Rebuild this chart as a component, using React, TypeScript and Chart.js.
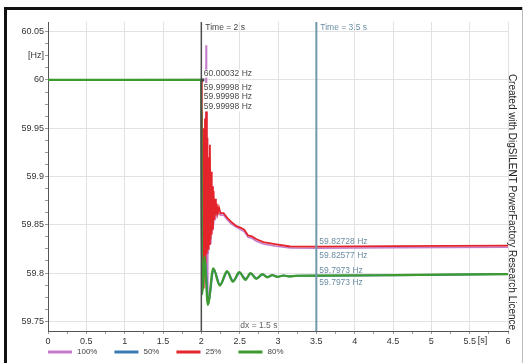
import React, { useEffect, useRef } from "react";
import { Chart, registerables } from "chart.js";
Chart.register(...registerables);

const seriesNames = ["100%", "50%", "25%", "80%"];
const seriesColors = ["#c47ccb", "#3b7bb3", "#e3242b", "#3c9a2f"];

const t100 = [0, 2.0, 2.01, 2.02, 2.03, 2.04, 2.05, 2.058, 2.062, 2.068, 2.076, 2.084, 2.092, 2.1, 2.108, 2.116, 2.124, 2.132, 2.14, 2.15, 2.16, 2.175, 2.19, 2.21, 2.25, 2.29, 2.34, 2.39, 2.45, 2.51, 2.56, 2.61, 2.66, 2.72, 2.81, 2.96, 3.16, 3.5, 4.5, 6.0];
const v100 = [60, 60.00032, 59.85, 59.92, 59.8, 59.94, 59.81, 59.95, 60.036, 59.83, 59.775, 59.9, 59.82, 59.91, 59.84, 59.895, 59.83, 59.88, 59.845, 59.875, 59.85, 59.87, 59.858, 59.864, 59.86, 59.86, 59.855, 59.851, 59.848, 59.845, 59.843, 59.837, 59.836, 59.833, 59.83, 59.828, 59.826, 59.82577, 59.8262, 59.8267];

const t50 = [0, 2.0, 2.01, 2.03, 2.05, 2.09, 2.16, 2.245, 2.34, 2.415, 2.5, 2.58, 2.645, 2.72, 2.8, 2.865, 2.93, 2.995, 3.075, 3.155, 3.25, 3.5, 4.5, 6.0];
const v50 = [60, 59.99998, 59.79, 59.8, 59.812, 59.768, 59.804, 59.788, 59.801, 59.792, 59.8, 59.794, 59.7995, 59.7945, 59.7985, 59.796, 59.7978, 59.7962, 59.7974, 59.7966, 59.7972, 59.7973, 59.7978, 59.799];

const t25 = [0, 2.0, 2.008, 2.016, 2.024, 2.032, 2.04, 2.048, 2.056, 2.064, 2.072, 2.08, 2.088, 2.096, 2.104, 2.112, 2.12, 2.128, 2.136, 2.144, 2.152, 2.16, 2.17, 2.18, 2.19, 2.2, 2.215, 2.23, 2.25, 2.29, 2.34, 2.39, 2.45, 2.51, 2.56, 2.61, 2.66, 2.72, 2.81, 2.96, 3.16, 3.5, 4.5, 6.0];
const v25 = [60, 59.99998, 59.8, 59.93, 59.785, 59.95, 59.8, 59.96, 59.81, 59.969, 59.82, 59.94, 59.825, 59.92, 59.83, 59.933, 59.835, 59.905, 59.84, 59.89, 59.845, 59.885, 59.855, 59.877, 59.86, 59.872, 59.862, 59.868, 59.862, 59.862, 59.857, 59.853, 59.849, 59.847, 59.845, 59.839, 59.838, 59.835, 59.832, 59.83, 59.8275, 59.82728, 59.8278, 59.8285];

const t80 = [0, 2.0, 2.01, 2.025, 2.04, 2.085, 2.155, 2.24, 2.335, 2.41, 2.495, 2.575, 2.64, 2.715, 2.795, 2.86, 2.925, 2.99, 3.07, 3.15, 3.25, 3.5, 4.5, 6.0];
const v80 = [60, 59.99998, 59.778, 59.79, 59.817, 59.767, 59.805, 59.787, 59.802, 59.791, 59.801, 59.793, 59.8, 59.794, 59.799, 59.7955, 59.798, 59.796, 59.7975, 59.7965, 59.7972, 59.7973, 59.7978, 59.799];

const xTicks = [0, 0.25, 0.5, 0.75, 1, 1.25, 1.5, 1.75, 2, 2.25, 2.5, 2.75, 3, 3.25, 3.5, 3.75, 4, 4.25, 4.5, 4.75, 5, 5.25, 5.5, 5.75, 6];
const xTickLabels = ["0", "", "0.5", "", "1", "", "1.5", "", "2", "", "2.5", "", "3", "", "3.5", "", "4", "", "4.5", "", "5", "", "5.5", "", "6"];
const xUnit = "[s]";
const yTicks = [59.75, 59.7625, 59.775, 59.7875, 59.8, 59.8125, 59.825, 59.8375, 59.85, 59.8625, 59.875, 59.8875, 59.9, 59.9125, 59.925, 59.9375, 59.95, 59.9625, 59.975, 59.9875, 60, 60.0125, 60.025, 60.0375, 60.05];
const yTickLabels = ["59.75", "", "", "", "59.8", "", "", "", "59.85", "", "", "", "59.9", "", "", "", "59.95", "", "", "", "60", "", "[Hz]", "", "60.05"];

const cursorA = 2;
const cursorB = 3.5;
const readoutsA = [60.00032, 59.99998, 59.99998, 59.99998];
const readoutsB = [59.82728, 59.82577, 59.7973, 59.7973];
const credit = "Created with DigSILENT PowerFactory Research Licence";

const FONT = '"Liberation Sans", Arial, sans-serif';

const seriesTimes = [t100, t50, t25, t80];
const seriesValues = [v100, v50, v25, v80];
const seriesWidths = [1.6, 2, 1.8, 2.2];
const seriesOrder = [3, 2, 1, 0];

const overlay = {
  id: "overlay",
  afterDatasetsDraw(chart: any) {
    const { ctx, chartArea: ca, scales } = chart;
    const x = scales.x, y = scales.y;
    const xa = x.getPixelForValue(cursorA);
    const xb = x.getPixelForValue(cursorB);
    ctx.save();
    // readouts A with white background
    ctx.font = `8.5px ${FONT}`;
    ctx.textBaseline = "middle";
    ctx.textAlign = "left";
    readoutsA.forEach((v, i) => {
      const py = i === 0 ? y.getPixelForValue(v) - 5.5 : y.getPixelForValue(v) + 7.5 + (i - 1) * 9.5;
      const txt = `${v} Hz`;
      const w = ctx.measureText(txt).width;
      ctx.fillStyle = "#ffffff";
      ctx.fillRect(xa + 1.5, py - 4.5, w + 3, i === 0 ? 8 : 9.5);
      ctx.fillStyle = "#4a4a4a";
      ctx.fillText(txt, xa + 2.5, py);
    });
    // cursor lines
    ctx.lineWidth = 1.5;
    ctx.strokeStyle = "#4d4d4d";
    ctx.beginPath(); ctx.moveTo(xa, ca.top); ctx.lineTo(xa, ca.bottom); ctx.stroke();
    ctx.lineWidth = 2;
    ctx.strokeStyle = "#7199ad";
    ctx.beginPath(); ctx.moveTo(xb, ca.top); ctx.lineTo(xb, ca.bottom); ctx.stroke();
    // marker
    ctx.fillStyle = "#444";
    ctx.fillRect(xa - 0.5, y.getPixelForValue(readoutsA[1]) - 1.5, 3.5, 3);
    // time labels
    ctx.fillStyle = "#444";
    ctx.fillText(`Time = ${cursorA} s`, xa + 4, ca.top + 5.5);
    ctx.fillStyle = "#6a8ea2";
    ctx.fillText(`Time = ${cursorB} s`, xb + 4, ca.top + 5.5);
    // readouts B
    readoutsB.forEach((v, i) => {
      const py = i % 2 === 0 ? y.getPixelForValue(v) - 5.5 : y.getPixelForValue(v) + 7;
      ctx.fillText(`${v} Hz`, xb + 3, py);
    });
    // dx
    ctx.fillStyle = "#666";
    ctx.textAlign = "center";
    ctx.fillText(`dx = ${cursorB - cursorA} s`, (xa + xb) / 2, ca.bottom - 5);
    ctx.restore();
  },
  afterDraw(chart: any) {
    const { ctx, chartArea: ca, scales } = chart;
    const x = scales.x;
    ctx.save();
    // unit label
    ctx.font = `9px ${FONT}`;
    ctx.fillStyle = "#333";
    ctx.textAlign = "left";
    ctx.textBaseline = "middle";
    ctx.fillText(xUnit, x.getPixelForValue(5.5) + 8, ca.bottom + 10);
    // legend
    ctx.font = `8px ${FONT}`;
    let lx = ca.left;
    const ly = 352;
    seriesNames.forEach((name, i) => {
      ctx.strokeStyle = seriesColors[i];
      ctx.lineWidth = 3;
      ctx.beginPath(); ctx.moveTo(lx, ly); ctx.lineTo(lx + 24, ly); ctx.stroke();
      ctx.fillStyle = "#444";
      ctx.fillText(name, lx + 29, ly);
      lx += 29 + ctx.measureText(name).width + 17;
    });
    // credit
    ctx.save();
    ctx.translate(512, 202);
    ctx.rotate(Math.PI / 2);
    ctx.font = `10px ${FONT}`;
    ctx.fillStyle = "#222";
    ctx.textAlign = "center";
    ctx.fillText(credit, 0, 0);
    ctx.restore();
    // frame
    ctx.fillStyle = "#111";
    ctx.fillRect(4, 7, 3, 356);
    ctx.fillRect(4, 7, 519, 3);
    ctx.fillStyle = "#bdbdbd";
    ctx.fillRect(522, 7, 1, 356);
    ctx.restore();
  },
};

const isMajorX = (v: number) => Math.abs(v * 2 - Math.round(v * 2)) < 1e-6;
const isMajorY = (v: number) => Math.abs(v / 0.05 - Math.round(v / 0.05)) < 1e-6;

export default function App() {
  const ref = useRef<HTMLCanvasElement | null>(null);
  useEffect(() => {
    if (!ref.current) return;
    const datasets = seriesNames.map((name, i) => ({
      label: name,
      data: seriesTimes[i].map((t, j) => ({ x: t, y: seriesValues[i][j] })),
      borderColor: seriesColors[i],
      backgroundColor: seriesColors[i],
      borderWidth: seriesWidths[i],
      pointRadius: 0,
      fill: false,
      order: seriesOrder[i],
      tension: 0,
      cubicInterpolationMode: i === 1 || i === 3 ? ("monotone" as const) : ("default" as const),
    }));
    const chart = new Chart(ref.current, {
      type: "line",
      data: { datasets },
      options: {
        animation: false,
        responsive: false,
        devicePixelRatio: 1,
        layout: { padding: { left: 0, top: 22, right: 18, bottom: 12 } },
        plugins: { legend: { display: false }, tooltip: { enabled: false } },
        scales: {
          x: {
            type: "linear",
            min: 0,
            max: 6,
            afterBuildTicks: (s: any) => { s.ticks = xTicks.map((v) => ({ value: v })); },
            afterFit: (s: any) => { s.height = 20; },
            ticks: {
              autoSkip: false,
              maxRotation: 0,
              padding: 2,
              color: "#333",
              font: { family: FONT, size: 9 },
              callback: (_v: any, i: number) => xTickLabels[i],
            },
            grid: {
              color: (c: any) => (isMajorX(c.tick?.value ?? 0.1) ? "#e2e2e2" : "rgba(0,0,0,0)"),
              tickColor: "#999",
              tickLength: 3,
            },
            border: { color: "#555", width: 1 },
          },
          y: {
            type: "linear",
            min: 59.74,
            max: 60.06,
            afterBuildTicks: (s: any) => { s.ticks = yTicks.map((v) => ({ value: v })); },
            afterFit: (s: any) => { s.width = 48; },
            ticks: {
              autoSkip: false,
              padding: 1,
              color: "#333",
              font: { family: FONT, size: 9 },
              callback: (_v: any, i: number) => yTickLabels[i],
            },
            grid: {
              color: (c: any) => (isMajorY(c.tick?.value ?? 0.01) ? "#e2e2e2" : "rgba(0,0,0,0)"),
              tickColor: "#999",
              tickLength: 3,
            },
            border: { color: "#555", width: 1 },
          },
        },
      },
      plugins: [overlay],
    });
    return () => chart.destroy();
  }, []);
  return (
    <div style={{ position: "absolute", left: 0, top: 0, width: 526, height: 363, background: "#fff" }}>
      <canvas ref={ref} width={526} height={363} style={{ display: "block" }} />
    </div>
  );
}
